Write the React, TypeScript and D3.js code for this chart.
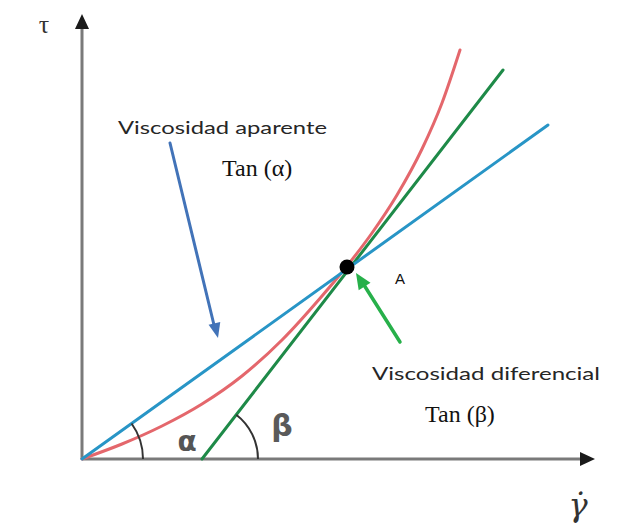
import React from "react";
import * as d3 from "d3";

// Shear rate (γ̇) and shear stress (τ) in arbitrary units
const redGamma = [0, 40, 80, 120, 160, 200, 240, 265, 290, 315, 340, 360, 378];
const redTau = [0, 15, 33, 55, 83, 119, 163, 193, 226, 264, 310, 356, 409];

// Secant through the origin and point A (apparent viscosity)
const blueGamma = [0, 466];
const blueTau = [0, 334];

// Tangent at point A (differential viscosity)
const greenGamma = [120, 421];
const greenTau = [0, 389];

const pointA = { gamma: 265, tau: 192, label: "A" };

const axisLabels = { y: "τ", x: "γ̇" };
const angleLabels = { alpha: "α", beta: "β" };
const annotations = {
  apparent: "Viscosidad aparente",
  apparentTan: "Tan (α)",
  differential: "Viscosidad diferencial",
  differentialTan: "Tan (β)",
};

const W = 638;
const H = 528;

export default function App() {
  const x = d3.scaleLinear().domain([0, 516]).range([82, 598]);
  const y = d3.scaleLinear().domain([0, 445]).range([459, 14]);

  const line = d3
    .line<[number, number]>()
    .x((d) => x(d[0]))
    .y((d) => y(d[1]));
  const curve = d3
    .line<[number, number]>()
    .x((d) => x(d[0]))
    .y((d) => y(d[1]))
    .curve(d3.curveMonotoneX);

  const redPts = redGamma.map((g, i) => [g, redTau[i]] as [number, number]);
  const bluePts = blueGamma.map((g, i) => [g, blueTau[i]] as [number, number]);
  const greenPts = greenGamma.map((g, i) => [g, greenTau[i]] as [number, number]);

  const x0 = x(0);
  const y0 = y(0);

  // angle arcs
  const blueAngle = Math.atan2(y(0) - y(blueTau[1]), x(blueGamma[1]) - x(0));
  const greenAngle = Math.atan2(
    y(0) - y(greenTau[1]),
    x(greenGamma[1]) - x(greenGamma[0])
  );
  const arcPath = (cx: number, cy: number, r: number, ang: number) => {
    const ex = cx + r * Math.cos(ang);
    const ey = cy - r * Math.sin(ang);
    return `M${cx + r},${cy} A${r},${r} 0 0 0 ${ex},${ey}`;
  };

  const arrowHead = (
    tx: number,
    ty: number,
    fx: number,
    fy: number,
    len: number,
    half: number
  ) => {
    const a = Math.atan2(ty - fy, tx - fx);
    const bx = tx - len * Math.cos(a);
    const by = ty - len * Math.sin(a);
    const px = -Math.sin(a) * half;
    const py = Math.cos(a) * half;
    return `M${tx},${ty} L${bx + px},${by + py} L${bx - px},${by - py} Z`;
  };

  const ax = x(pointA.gamma);
  const ay = y(pointA.tau);

  return (
    <svg
      width={W}
      height={H}
      style={{ position: "absolute", left: 0, top: 0, background: "#fff" }}
    >
      {/* axes */}
      <line x1={x0} y1={y0} x2={x0} y2={28} stroke="#7a7a7a" strokeWidth={3} />
      <path d={arrowHead(x0, 14, x0, 40, 15, 7)} fill="#1a1a1a" />
      <line x1={x0} y1={y0} x2={582} y2={y0} stroke="#7a7a7a" strokeWidth={3} />
      <path d={arrowHead(595, y0, 560, y0, 15, 7)} fill="#1a1a1a" />

      {/* curves */}
      <path
        d={curve(redPts) || ""}
        fill="none"
        stroke="#e4676c"
        strokeWidth={3}
        strokeLinecap="round"
      />
      <path
        d={line(greenPts) || ""}
        fill="none"
        stroke="#1e8a48"
        strokeWidth={3}
        strokeLinecap="round"
      />
      <path
        d={line(bluePts) || ""}
        fill="none"
        stroke="#2895c6"
        strokeWidth={3}
        strokeLinecap="round"
      />

      {/* angle arcs */}
      <path d={arcPath(x0, y0, 61, blueAngle)} fill="none" stroke="#333" strokeWidth={2} />
      <path
        d={arcPath(x(greenGamma[0]), y0, 56, greenAngle)}
        fill="none"
        stroke="#333"
        strokeWidth={2}
      />
      <text
        x={187}
        y={451}
        fontFamily="DejaVu Sans, sans-serif"
        fontWeight="bold"
        fontSize={28}
        fill="#555"
        textAnchor="middle"
      >
        {angleLabels.alpha}
      </text>
      <text
        x={282}
        y={436}
        fontFamily="DejaVu Sans, sans-serif"
        fontWeight="bold"
        fontSize={30}
        fill="#5a5a5a"
        textAnchor="middle"
      >
        {angleLabels.beta}
      </text>

      {/* point A */}
      <circle cx={ax} cy={ay} r={7.5} fill="#000" />
      <text x={400} y={284} fontFamily="Liberation Sans, sans-serif" fontSize={15} fill="#111" textAnchor="middle">
        {pointA.label}
      </text>

      {/* annotation arrows */}
      <line x1={170} y1={143} x2={214} y2={325} stroke="#4273b8" strokeWidth={3} strokeLinecap="round" />
      <path d={arrowHead(218, 338, 170, 143, 15, 6)} fill="#4273b8" />
      <line x1={400} y1={342} x2={364} y2={285} stroke="#27b04a" strokeWidth={3.5} strokeLinecap="round" />
      <path d={arrowHead(356, 273, 400, 342, 16, 7)} fill="#27b04a" />

      {/* annotation texts */}
      <text
        x={118}
        y={134}
        fontFamily="Lato, sans-serif"
        fontSize={18}
        fill="#262626"
        textLength={209}
        lengthAdjust="spacingAndGlyphs"
      >
        {annotations.apparent}
      </text>
      <text x={222} y={176} fontFamily="Liberation Serif, serif" fontSize={24} fill="#111">
        {annotations.apparentTan}
      </text>
      <text
        x={372}
        y={380}
        fontFamily="Lato, sans-serif"
        fontSize={18}
        fill="#262626"
        textLength={228}
        lengthAdjust="spacingAndGlyphs"
      >
        {annotations.differential}
      </text>
      <text x={425} y={422} fontFamily="Liberation Serif, serif" fontSize={24} fill="#111">
        {annotations.differentialTan}
      </text>

      {/* axis labels */}
      <text x={44} y={33} fontFamily="Liberation Serif, serif" fontSize={26} fill="#333" textAnchor="middle">
        {axisLabels.y}
      </text>
      <text
        x={578}
        y={516}
        fontFamily="DejaVu Serif, serif"
        fontStyle="italic"
        fontSize={32}
        fill="#333"
        textAnchor="middle"
      >
        {axisLabels.x}
      </text>
    </svg>
  );
}
